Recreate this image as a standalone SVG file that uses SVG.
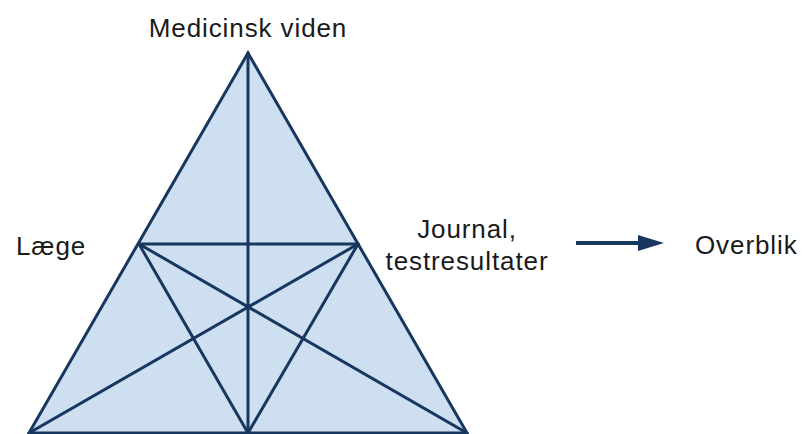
<svg xmlns="http://www.w3.org/2000/svg" width="804" height="434" viewBox="0 0 804 434">
  <defs>
    <style>
      .lbl { font-family: "Liberation Sans", Arial, sans-serif; font-size: 26px; fill: #1a1a1a; letter-spacing: 0.9px; }
      .edge { stroke: #17375e; stroke-width: 3; fill: none; stroke-linecap: round; stroke-linejoin: round; }
      .tip { fill: #17375e; }
    </style>
  </defs>
  <rect width="804" height="434" fill="#ffffff"/>

  <!-- triangle body -->
  <g id="triangle">
    <polygon points="248,53 29,433 467,433" fill="#cddff1" stroke="#17375e" stroke-width="3" stroke-linejoin="miter"/>
  </g>

  <!-- inner lines and the outgoing arrow -->
  <g id="connectors">
    <line class="edge" x1="139" y1="244" x2="358" y2="244"/>
    <line class="edge" x1="248" y1="53" x2="248" y2="433"/>
    <line class="edge" x1="139" y1="244" x2="467" y2="433"/>
    <line class="edge" x1="358" y1="244" x2="29" y2="433"/>
    <line class="edge" x1="139" y1="244" x2="248" y2="433"/>
    <line class="edge" x1="358" y1="244" x2="248" y2="433"/>
    <line x1="576" y1="243" x2="642" y2="243" stroke="#17375e" stroke-width="4"/>
    <polygon class="tip" points="638,235 664,243 638,251"/>
  </g>

  <g id="node-top">
    <text class="lbl" x="248" y="37" text-anchor="middle">Medicinsk viden</text>
  </g>
  <g id="node-left">
    <text class="lbl" x="16" y="255">Læge</text>
  </g>
  <g id="node-right">
    <text class="lbl" x="467" y="238" text-anchor="middle">Journal,</text>
    <text class="lbl" x="467" y="270" text-anchor="middle">testresultater</text>
  </g>
  <g id="node-result">
    <text class="lbl" x="695" y="254">Overblik</text>
  </g>
</svg>
